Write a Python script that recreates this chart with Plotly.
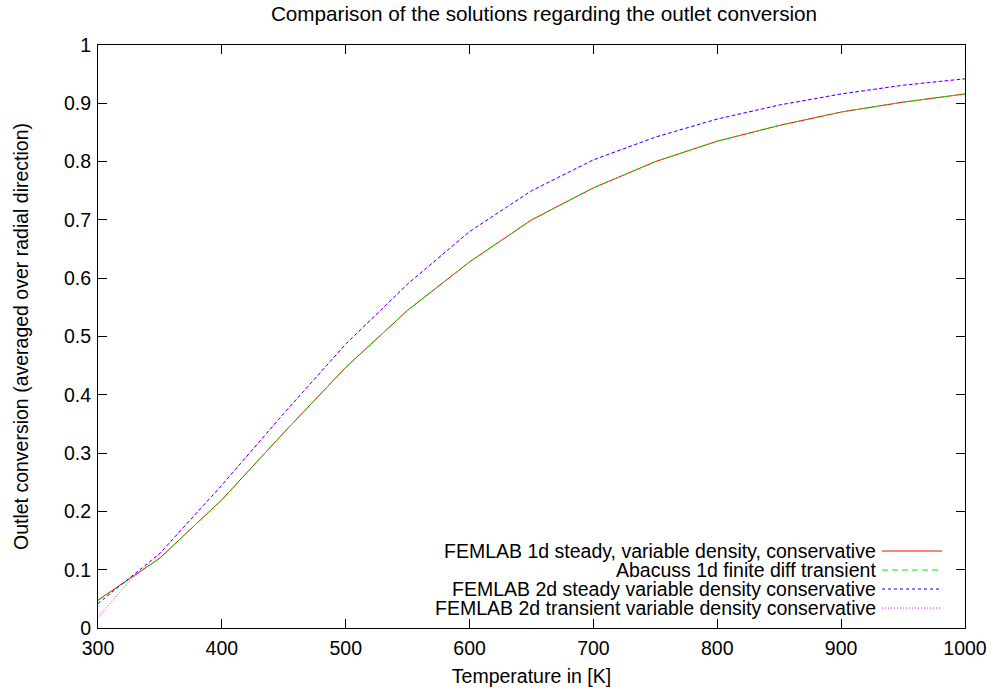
import plotly.graph_objects as go

# Outlet conversion vs. temperature for four solution approaches
temp_1d = [300, 350, 400, 450, 500, 550, 600, 650, 700, 750, 800, 850, 900, 950, 1000]
femlab_1d_steady = [0.048, 0.120, 0.220, 0.335, 0.447, 0.545, 0.628, 0.700, 0.755,
                    0.800, 0.835, 0.862, 0.885, 0.902, 0.916]
abacuss_1d_transient = [0.047, 0.120, 0.220, 0.335, 0.447, 0.545, 0.628, 0.700, 0.755,
                        0.800, 0.835, 0.862, 0.885, 0.902, 0.916]

temp_2d = [300, 325, 350, 400, 450, 500, 550, 600, 650, 700, 750, 800, 850, 900, 950, 1000]
femlab_2d_steady = [0.042, 0.085, 0.128, 0.245, 0.368, 0.487, 0.590, 0.680, 0.750,
                    0.803, 0.842, 0.873, 0.897, 0.916, 0.931, 0.942]
femlab_2d_transient = [0.018, 0.080, 0.128, 0.245, 0.368, 0.487, 0.590, 0.680, 0.750,
                       0.803, 0.842, 0.873, 0.897, 0.916, 0.931, 0.942]

x_ticks = [300, 400, 500, 600, 700, 800, 900, 1000]
y_ticks = [0, 0.1, 0.2, 0.3, 0.4, 0.5, 0.6, 0.7, 0.8, 0.9, 1]
y_tick_text = ["0", "0.1", "0.2", "0.3", "0.4", "0.5", "0.6", "0.7", "0.8", "0.9", "1"]

series = [
    ("FEMLAB 1d steady, variable density, conservative", temp_1d, femlab_1d_steady, "#ff0000", "solid"),
    ("Abacuss 1d finite diff transient", temp_1d, abacuss_1d_transient, "#00ee00", "6px,4px"),
    ("FEMLAB 2d steady variable density conservative", temp_2d, femlab_2d_steady, "#0000ff", "3px,3px"),
    ("FEMLAB 2d transient variable density conservative", temp_2d, femlab_2d_transient, "#ff00ff", "1px,2px"),
]

FONT = "Liberation Sans, Arial, sans-serif"
FS = 19.5
fig = go.Figure()
for name, xs, ys, color, dash in series:
    fig.add_trace(go.Scatter(x=xs, y=ys, mode="lines", name=name,
                             line=dict(color=color, width=1, dash=dash),
                             showlegend=False))

# Key in the lower right: right-aligned text with the line sample after it
L, R, T, B = 98, 965, 45, 628
W, H = R - L, B - T
rows_px = [551, 570, 589, 608]
for (name, _, _, color, dash), py in zip(series, rows_px):
    yp = (B - py) / H
    fig.add_annotation(x=(877 - L) / W, y=yp, xref="paper", yref="paper",
                       text=name, showarrow=False, xanchor="right", yanchor="middle",
                       borderpad=0,
                       font=dict(family=FONT, size=FS, color="#000000"))
    fig.add_shape(type="line", xref="paper", yref="paper",
                  x0=(882 - L) / W, x1=(942 - L) / W, y0=yp, y1=yp,
                  line=dict(color=color, width=1, dash=dash))

axis_common = dict(showline=True, linecolor="#000000", linewidth=1, mirror="allticks",
                   ticks="inside", ticklen=9, tickcolor="#000000", tickwidth=1,
                   showgrid=False, zeroline=False, automargin=False,
                   tickfont=dict(family=FONT, size=FS, color="#000000"))

fig.update_layout(
    width=994, height=688,
    margin=dict(l=L, r=994 - R, t=T, b=688 - B),
    paper_bgcolor="#ffffff", plot_bgcolor="#ffffff",
    title=dict(text="Comparison of the solutions regarding the outlet conversion",
               x=(271 + 817) / 2 / 994, xanchor="center", y=1 - 14 / 688, yanchor="middle",
               font=dict(family=FONT, size=20.7, color="#000000")),
    xaxis=dict(range=[300, 1000], tickvals=x_ticks, ticklabelstandoff=3,
               title=dict(text="Temperature in [K]", standoff=10,
                          font=dict(family=FONT, size=FS, color="#000000")),
               **axis_common),
    yaxis=dict(range=[0, 1], tickvals=y_ticks, ticktext=y_tick_text, ticklabelstandoff=2,
               title=dict(text="Outlet conversion (averaged over radial direction)", standoff=30,
                          font=dict(family=FONT, size=FS, color="#000000")),
               **axis_common),
)

fig.write_html("out.html")
